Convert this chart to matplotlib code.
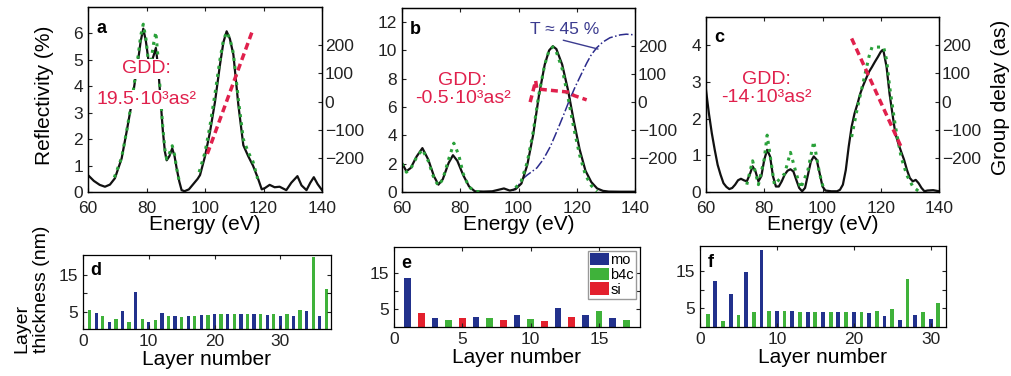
import numpy as np
import matplotlib.pyplot as plt

plt.rcParams['font.family'] = ['Liberation Sans', 'DejaVu Sans']
plt.rcParams['axes.linewidth'] = 0.9

# ---- panel a: reflectivity (black), target (green), group delay (red)
a_E = [60, 62, 64, 65.8, 67.5, 69.2, 71.5, 73.2, 75, 76.2, 77.2, 78, 78.9, 79.8, 80.6, 81.6,
       82.4, 83.2, 84, 84.8, 85.6, 86.3, 86.9, 87.8, 88.8, 89.6, 90.3, 91.2, 92, 93, 94.5, 96,
       97.5, 98.3, 100, 101.7, 103.4, 105.1, 106.3, 107.4, 108.5, 109.7, 111.4, 113.1, 114.8,
       116.4, 118, 119.4, 120.5, 122.1, 123.8, 125.5, 127.8, 129.5, 131.6, 133, 134.7, 136,
       137.2, 138.5, 140]
a_R = [0.64, 0.42, 0.27, 0.2, 0.28, 0.52, 1.27, 2.28, 3.4, 4.3, 5.04, 5.7, 6.18, 5.7, 5.04, 4.9,
       5.15, 5.45, 4.7, 3.5, 2.3, 1.52, 1.2, 1.35, 1.65, 1.35, 0.9, 0.4, 0.07, 0.03, 0.1, 0.3,
       0.5, 0.64, 1.35, 2.27, 3.4, 4.8, 5.67, 6.08, 5.8, 5.2, 3.3, 1.77, 1.35,
       1.0, 0.55, 0.1, 0.15, 0.27, 0.18, 0.2, 0.07, 0.35, 0.6, 0.25, 0.07, 0.35,
       0.56, 0.3, 0.07]
a_tE = [69, 71.5, 73.2, 75, 76.2, 77.2, 78, 78.9, 79.8, 80.6, 81.6, 82.4, 83.2, 84, 84.8, 85.6,
        86.3, 86.9, 87.8, 88.8, 89.6, 90.3, 91.2, np.nan,
        98, 100, 101.7, 103.4, 105.1, 106.3, 107.4, 108.5, 109.7, 111.4, 113.1, 114.8, 116.4, 118]
a_tR = [0.55, 1.3, 2.3, 3.45, 4.4, 5.2, 5.9, 6.35, 5.8, 5.0, 5.0, 5.6, 6.05, 5.0, 3.6, 2.4,
        1.6, 1.25, 1.45, 1.75, 1.4, 0.9, 0.4, np.nan,
        0.75, 1.5, 2.5, 3.7, 5.0, 5.75, 6.05, 5.8, 5.25, 3.5, 2.0, 1.5, 1.15, 0.5]
a_gdE = [100.8, 116.3]
a_gd = [-185, 253]

# ---- panel b
b_E = [60, 61.5, 63, 65, 67, 69, 71, 72.5, 74, 76, 77.5, 79, 81, 83, 85, 88, 91, 93, 95, 97,
       99, 101, 103, 105, 107, 109, 110.5, 111.8, 113, 115, 117, 119, 121, 123, 125, 127, 129,
       131, 135, 140]
b_R = [2.05, 1.46, 1.7, 2.5, 3.1, 2.3, 1.1, 0.52, 0.9, 2.05, 2.6, 2.2, 1.2, 0.4, 0.05, 0.03,
       0.05, 0.15, 0.25, 0.1, 0.2, 0.6, 1.9, 4.0, 6.8, 9.0, 10.0, 10.3, 10.1, 9.0, 7.2, 5.0,
       3.0, 1.5, 0.7, 0.25, 0.08, 0.03, 0.02, 0.02]
b_tE = [60, 61.5, 63, 65, 67, 69, 71, 72.5, 74, 76, 77.8, 79.5, 81, 83, 85, 87, np.nan,
        99, 101, 103, 105, 107, 109, 110.5, 111.8, 113, 115, 117, 119, 121, 123, 125, 127]
b_tR = [2.0, 1.4, 1.65, 2.45, 3.0, 2.2, 0.95, 0.45, 0.9, 2.3, 3.45, 2.6, 1.3, 0.35, 0.05, 0.0,
        np.nan,
        0.3, 0.8, 2.1, 4.2, 6.9, 9.0, 10.0, 10.25, 9.9, 8.7, 6.7, 4.5, 2.6, 1.2, 0.45, 0.05]
b_TE = [98, 100, 101.1, 103, 106.3, 108.5, 110.9, 113, 115.4, 117.5, 119.4, 121.5, 123.4, 125,
        126.9, 129, 131.4, 134.9, 137, 140]
b_T = [0.1, 0.45, 0.87, 1.2, 1.7, 2.3, 3.2, 4.2, 5.4, 6.5, 7.4, 8.3, 9.1, 9.7,
       10.2, 10.6, 10.9, 11.1, 11.15, 11.1]
b_gdE = [104, 105.9, 106.3, 117.7, 118.9, 123.4]
b_gd = [0, 76, 47, 35, 24, 8]

# ---- panel c
c_E = [60, 61, 62, 63, 64, 65, 66, 67, 68, 69, 70, 71, 72, 73, 74, 75, 76, 77, 78, 79, 80, 81,
       82, 83, 84, 85, 86, 87, 88, 89, 90, 91, 92, 93, 94, 95, 96, 97, 98, 99, 100, 101, 103,
       105, 106, 107, 108, 109, 110, 111, 112, 113, 114, 115, 116, 117, 118, 119, 120, 120.6,
       121, 122, 123, 124, 125, 126, 127, 128, 129, 130, 131, 132, 133, 134, 135, 136, 138, 140]
c_R = [2.78, 2.14, 1.6, 1.15, 0.74, 0.47, 0.24, 0.14, 0.08, 0.11, 0.2, 0.32, 0.36, 0.32, 0.29,
       0.47, 0.7, 0.56, 0.29, 0.43, 0.88, 1.15, 0.97, 0.43, 0.15, 0.15, 0.29, 0.47, 0.58, 0.62,
       0.56, 0.33, 0.11, 0.02, 0.11, 0.47, 0.83, 0.97, 0.88, 0.52, 0.15, 0.04, 0.02,
       0.02, 0.06, 0.2, 0.6, 1.24, 1.78, 2.14, 2.4, 2.69, 2.91, 3.1, 3.28, 3.41, 3.55, 3.68,
       3.82, 3.87, 3.82, 3.41, 2.69, 2.14, 1.6, 1.33, 1.1, 0.88, 0.6, 0.38, 0.29, 0.33, 0.24,
       0.11, 0.02, 0.04, 0.05, 0.02]
c_tE = [74, 76, 78, 80, 81, 82, 83.5, 87, 89, 91, 92.5, 95, 97, 99, 100.5, np.nan,
        110, 112, 114, 116, 117, 121, 122, 123, 125, 127, 129, 131, 133]
c_tR = [0.2, 0.85, 0.2, 0.9, 1.55, 1.0, 0.2, 0.5, 1.08, 0.5, 0.1, 0.6, 1.38, 0.5, 0.05, np.nan,
        1.5, 2.3, 3.0, 3.7, 3.95, 3.95, 3.6, 2.9, 1.8, 0.95, 0.45, 0.15, 0.02]
c_gdE = [110, 127.2]
c_gd = [224, -165]

# ---- layer thickness (nm)
d_thick = [5.5, 4.8, 3.9, 2.5, 3.2, 5.4, 2.5, 10.4, 3.1, 2.3, 2.8, 4.7, 4.0, 3.9, 3.8, 3.9,
           4.1, 4.3, 4.3, 4.4, 4.4, 4.4, 4.4, 4.4, 4.4, 4.4, 4.4, 4.3, 4.6, 4.1, 4.6, 4.0,
           5.5, 5.2, 19.8, 4.0, 11.3]
d_mat = ['b4c' if i % 2 == 0 else 'mo' for i in range(len(d_thick))]

e_thick = [13.6, 3.8, 2.4, 2.1, 2.4, 2.8, 2.4, 1.9, 3.4, 2.3, 1.7, 5.2, 2.8, 3.4, 4.5, 2.6, 1.9]
e_mat = ['mo', 'si', 'mo', 'b4c', 'si', 'mo', 'b4c', 'si', 'mo', 'b4c', 'si', 'mo', 'si', 'mo',
         'b4c', 'mo', 'b4c']

f_thick = [3.5, 12.3, 1.5, 8.8, 3.2, 14.7, 3.9, 20.5, 4.3, 4.4, 4.4, 4.2, 4.1, 4.1, 4.1, 4.1,
           4.1, 4.1, 4.1, 4.0, 4.1, 3.8, 4.4, 3.0, 4.8, 1.9, 12.8, 3.2, 3.9, 2.1, 6.5]
f_mat = ['b4c' if i % 2 == 0 else 'mo' for i in range(len(f_thick))]

mat_colors = {'mo': '#22318c', 'b4c': '#3fb23a', 'si': '#e3202d'}
red = '#e0204c'
W, H = 1011, 376
TICK = 12.5
LAB = 15


def box(l, t, r, b):
    return [l / W, 1 - b / H, (r - l) / W, (b - t) / H]


fig = plt.figure(figsize=(W / 100, H / 100), dpi=100)


def spectrum(rect, E, R, tE, tR, gdE, gd, ylim, yticks, gdlim, letter):
    ax = fig.add_axes(rect)
    ax.plot(tE, tR, color='#2aa13a', ls=':', lw=2.2, zorder=3)
    ax.plot(E, R, color='#111111', lw=1.6, zorder=2)
    ax.set_xlim(60, 140)
    ax.set_ylim(*ylim)
    ax.set_xticks([60, 80, 100, 120, 140])
    ax.set_yticks(yticks)
    ax.tick_params(direction='in', length=3, labelsize=TICK, colors='#222222', top=True)
    ax.tick_params(axis='x', pad=6.5)
    ax.set_xlabel('Energy (eV)', fontsize=LAB, labelpad=-1)
    ax.text(0.035, 0.93, letter, transform=ax.transAxes, fontsize=13, fontweight='bold',
            va='top', ha='left')
    ax2 = ax.twinx()
    ax2.plot(gdE, gd, color=red, ls=(0, (2, 1.2)), lw=2.5)
    ax2.set_ylim(*gdlim)
    ax2.set_yticks([-200, -100, 0, 100, 200])
    ax2.tick_params(direction='in', length=3, labelsize=TICK, colors='#222222', pad=2)
    return ax, ax2


def gdd(ax, x, y1, y2, txt, bg=False):
    kw = dict(transform=ax.transAxes, color=red, fontsize=14, ha='center', va='center',
              zorder=5)
    if bg:
        kw['bbox'] = dict(fc='white', ec='none', pad=1)
    ax.text(x, y1, 'GDD:', **kw)
    ax.text(x, y2, txt, **kw)


axa, axa2 = spectrum(box(88, 7, 322, 192), a_E, a_R, a_tE, a_tR, a_gdE, a_gd,
                     (0, 7), range(0, 7), (-320, 335), 'a')
gdd(axa, 0.25, 0.665, 0.5, '19.5·10³as²', bg=True)
fig.text(45 / W, 1 - 95 / H, 'Reflectivity (%)', rotation=90, fontsize=LAB,
         ha='center', va='center')

axb, axb2 = spectrum(box(402, 8, 635, 192), b_E, b_R, b_tE, b_tR, b_gdE, b_gd,
                     (0, 13), range(0, 13, 2), (-320, 335), 'b')
axb.plot(b_TE, b_T, color='#2b2b8c', ls='-.', lw=1.1, zorder=1)
axb.annotate('T ≈ 45 %', xy=(127.3, 10.1), xytext=(104, 11.45), color='#3b3b8f',
             fontsize=12.5, ha='left', va='center',
             arrowprops=dict(arrowstyle='-', color='#3b3b8f', lw=1, shrinkA=0, shrinkB=0,
                             relpos=(0.32, 0)))
gdd(axb, 0.26, 0.605, 0.51, '-0.5·10³as²')

axc, axc2 = spectrum(box(706, 17, 939, 192), c_E, c_R, c_tE, c_tR, c_gdE, c_gd,
                     (0, 4.77), range(0, 5), (-320, 300), 'c')
gdd(axc, 0.26, 0.64, 0.54, '-14·10³as²')
fig.text(1001 / W, 1 - 97 / H, 'Group delay (as)', rotation=90, fontsize=LAB,
         ha='center', va='center')


def layers(rect, thick, mat, xlim, ylim, xticks, letter):
    ax = fig.add_axes(rect)
    n = np.arange(1, len(thick) + 1)
    for m in ['mo', 'b4c', 'si']:
        sel = [i for i, k in enumerate(mat) if k == m]
        if sel:
            ax.bar(n[sel], [thick[i] for i in sel], width=0.5, color=mat_colors[m], label=m)
    ax.set_xlim(*xlim)
    ax.set_ylim(*ylim)
    ax.set_xticks(xticks)
    ax.set_yticks([5, 10, 15])
    ax.set_yticklabels(['5', '', '15'])
    ax.tick_params(direction='in', length=3, labelsize=TICK, colors='#222222', top=True,
                   right=True)
    ax.set_xlabel('Layer number', fontsize=LAB, labelpad=0.5)
    ax.text(0.03, 0.9, letter, transform=ax.transAxes, fontsize=13, fontweight='bold',
            va='top', ha='left')
    return ax


axd = layers(box(83, 255, 331, 329), d_thick, d_mat, (0, 37.7), (0.5, 20.3), [0, 10, 20, 30], 'd')
axe = layers(box(394, 247, 640, 327), e_thick, e_mat, (0, 18), (0, 22.4), [0, 5, 10, 15], 'e')
axf = layers(box(700, 246, 946, 327), f_thick, f_mat, (0, 32), (0, 21.6), [0, 10, 20, 30], 'f')
axe.legend(loc='upper right', fontsize=10.5, handlelength=1.3, handleheight=0.9,
           handletextpad=0.1, borderpad=0.15, labelspacing=0.05, borderaxespad=0.25,
           fancybox=False, edgecolor='#999999', framealpha=1)

fig.text(22 / W, 1 - 353 / H, 'Layer', rotation=90, fontsize=14, ha='center', va='bottom')
fig.text(41 / W, 1 - 353 / H, 'thickness (nm)', rotation=90, fontsize=14, ha='center',
         va='bottom')

fig.savefig('out.png', dpi=100)
